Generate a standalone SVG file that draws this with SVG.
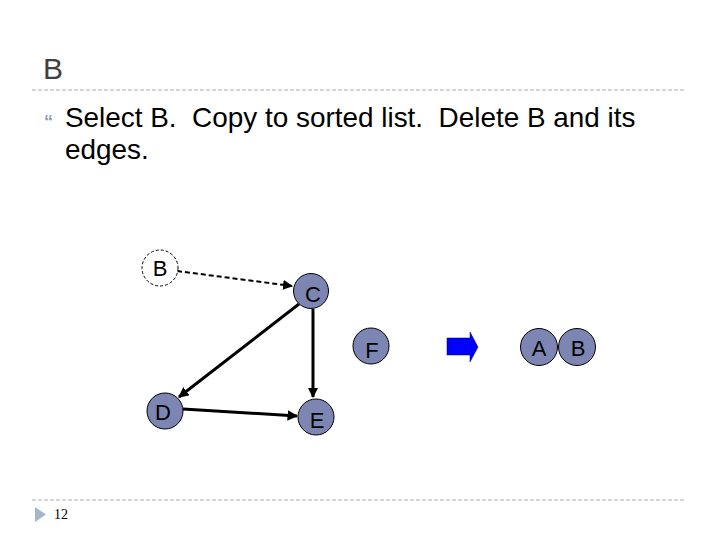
<svg xmlns="http://www.w3.org/2000/svg" width="720" height="540" viewBox="0 0 720 540">
<defs>
<style>
.sep{stroke:#A8AEB6;stroke-width:1;stroke-dasharray:4 2;fill:none}
.node{fill:#7D86B2;stroke:#000;stroke-width:1}
.lbl{font-family:"Liberation Sans",Arial,sans-serif;font-size:22px;fill:#000;text-anchor:middle}
.edge{stroke:#000;stroke-width:3;fill:none;marker-end:url(#ah)}
.body{font-family:"Liberation Sans",Arial,sans-serif;font-size:27.9px;fill:#000;white-space:pre}
</style>
<marker id="ah" viewBox="0 0 10 10" refX="9" refY="5" markerWidth="3.5" markerHeight="3.5" orient="auto" markerUnits="strokeWidth">
<path d="M0,0 L10,5 L0,10 z" fill="#000"/>
</marker>
<marker id="ahd" viewBox="0 0 10 10" refX="9" refY="5" markerWidth="5" markerHeight="5" orient="auto" markerUnits="strokeWidth">
<path d="M0,0 L10,5 L0,10 z" fill="#000"/>
</marker>
</defs>
<rect width="720" height="540" fill="#fff"/>
<text x="43" y="79" font-family="Liberation Sans,Arial,sans-serif" font-size="30" fill="#404040">B</text>
<line class="sep" x1="32" y1="90" x2="686" y2="90"/>
<text x="44" y="128" font-family="Liberation Sans,Arial,sans-serif" font-size="18" font-weight="bold" fill="#8A98B4">“</text>
<text class="body" x="65" y="127" xml:space="preserve">Select B.  Copy to sorted list.  Delete B and its</text>
<text class="body" x="65" y="159">edges.</text>
<g id="connectors">
<line x1="177" y1="271" x2="292" y2="286" stroke="#000" stroke-width="2" stroke-dasharray="5 3" marker-end="url(#ahd)"/>
<line class="edge" x1="299" y1="304" x2="179" y2="397"/>
<line class="edge" x1="313" y1="309" x2="313" y2="397"/>
<line class="edge" x1="183" y1="409" x2="297" y2="416"/>
</g>
<g id="node-B">
<circle cx="160" cy="268" r="18" fill="#fff" stroke="#000" stroke-width="1" stroke-dasharray="3 2"/>
<text class="lbl" x="160" y="276">B</text>
</g>
<g id="node-C">
<circle class="node" cx="311" cy="291" r="17.5"/>
<text class="lbl" x="313" y="302">C</text>
</g>
<g id="node-D">
<circle class="node" cx="165" cy="411" r="18"/>
<text class="lbl" x="163" y="420">D</text>
</g>
<g id="node-E">
<circle class="node" cx="316" cy="417" r="18"/>
<text class="lbl" x="317" y="428">E</text>
</g>
<g id="node-F">
<circle class="node" cx="371" cy="346" r="18"/>
<text class="lbl" x="372" y="358">F</text>
</g>
<g id="arrow">
<path d="M447,338 L470,338 L470,332 L478,347 L470,362 L470,355 L447,355 Z" fill="#0000FF" stroke="#000040" stroke-width="0.5"/>
</g>
<g id="node-A2">
<circle class="node" cx="539" cy="347" r="18.5"/>
<text class="lbl" x="539" y="356">A</text>
</g>
<g id="node-B2">
<circle class="node" cx="577" cy="347" r="18.5"/>
<text class="lbl" x="578" y="356">B</text>
</g>
<line class="sep" x1="32" y1="500" x2="686" y2="500"/>
<path d="M35,507 L46,514.5 L35,522 Z" fill="#A3B6CC"/>
<text x="54" y="519" font-family="Liberation Serif,Times New Roman,serif" font-size="14" fill="#000">12</text>
</svg>
